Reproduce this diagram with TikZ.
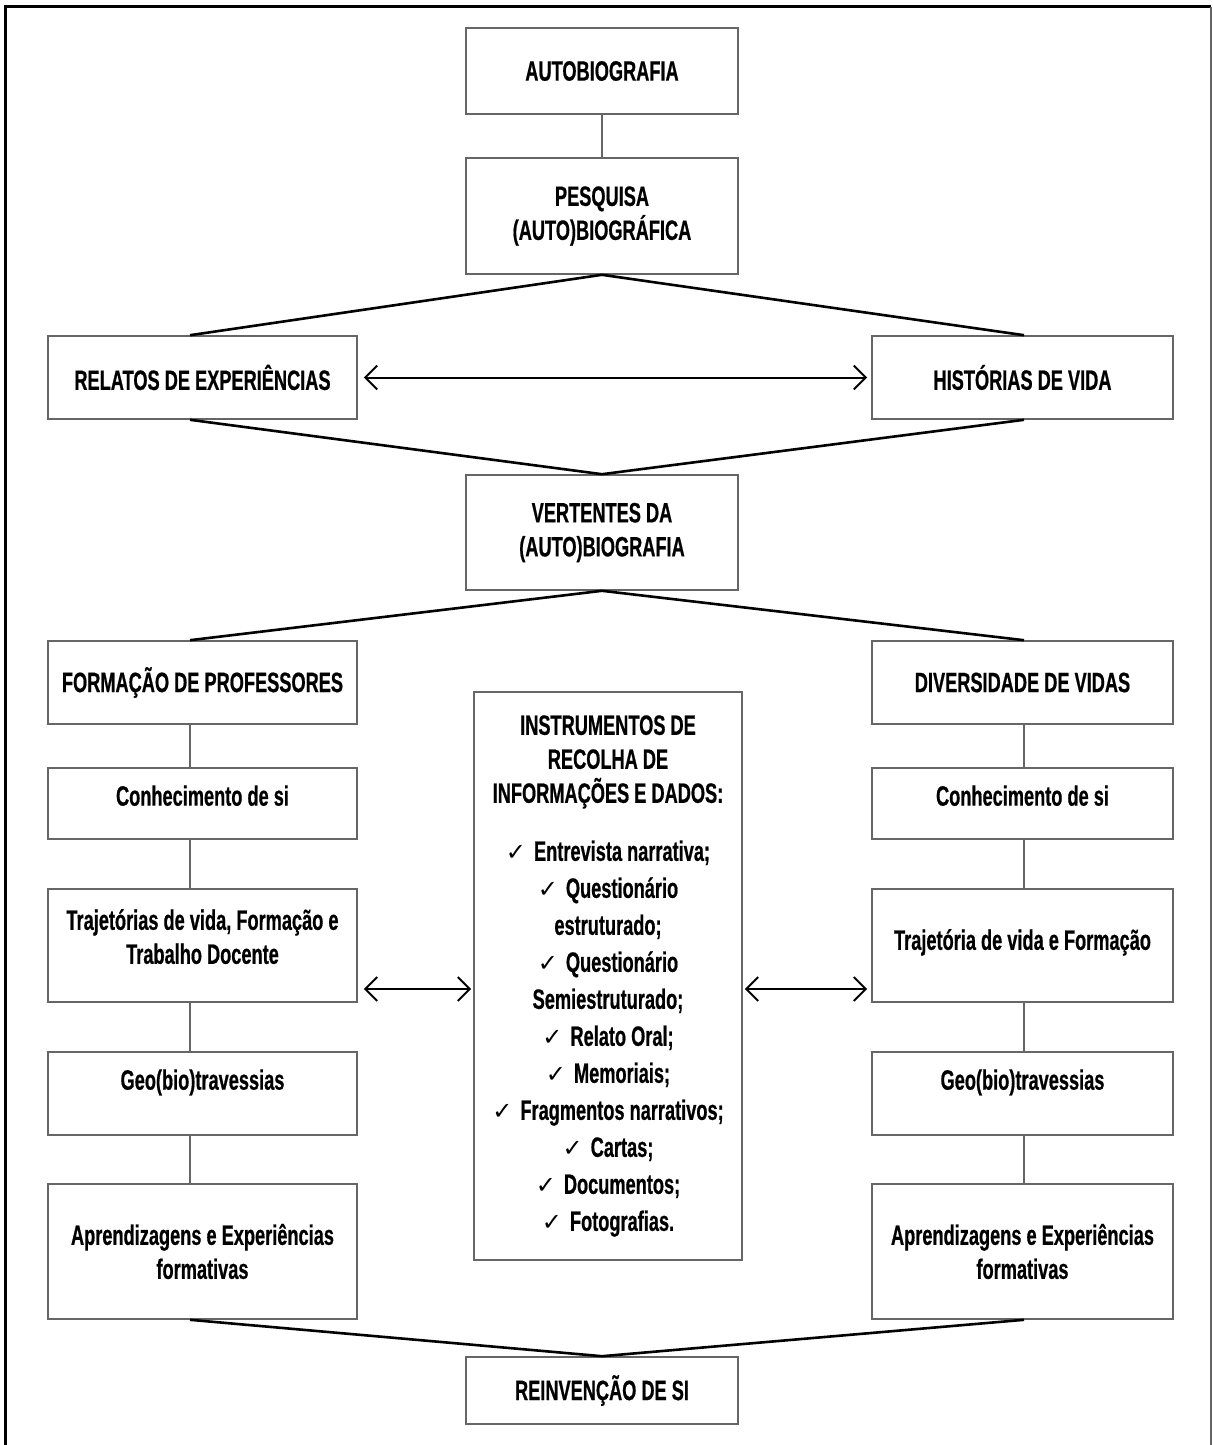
\documentclass[tikz,border=0pt]{standalone}
\usepackage{fontspec}
\setmainfont{Liberation Sans}[FakeStretch=0.65, BoldFeatures={FakeBold=0.6}]
\newfontfamily\checkfont{DejaVu Sans}
\usetikzlibrary{arrows.meta}
\tikzstyle{box} = [draw=black!60, line width=0.8pt, rectangle, align=center, inner sep=2pt, font=\bfseries\fontsize{14}{17}\selectfont]
\tikzstyle{line} = [line width=1.3pt]
\tikzstyle{link} = [draw=black!60, line width=0.7pt]
\tikzstyle{arrow} = [line width=1pt, {Straight Barb[length=6pt,width=12pt]}-{Straight Barb[length=6pt,width=12pt]}]
\newcommand{\chk}{{\checkfont\mdseries\fontsize{12}{12}\selectfont ✓}\hspace{4pt}}

\begin{document}
\begin{tikzpicture}[
            x=0.5pt, y=-0.5pt,
            mid/.style={box, minimum width=136pt},
            left/.style={box, minimum width=154.5pt},
            right/.style={box, minimum width=150.5pt}
        ]
            \useasboundingbox (0,0) rectangle (1212,1445);
            \draw[line width=1.5pt] (5,1445) -- (5,7) -- (1211,7);
            \draw[black!60, line width=0.8pt] (1211,7) -- (1211,1445);

            \node[mid, minimum height=43pt] (auto) at (602,71) {AUTOBIOGRAFIA};
            \node[mid, minimum height=58pt] (pesq) at (602,216) {PESQUISA\\(AUTO)BIOGRÁFICA};
            \node[left, minimum height=41.5pt] (relatos) at (202.5,377.5) {RELATOS DE EXPERIÊNCIAS};
            \node[right, minimum height=41.5pt] (hist) at (1022.5,377.5) {HISTÓRIAS DE VIDA};
            \node[mid, minimum height=57.5pt] (vert) at (602,532.5) {VERTENTES DA\\(AUTO)BIOGRAFIA};

            % coluna da esquerda
            \node[left, minimum height=41.5pt] (form) at (202.5,682.5) {FORMAÇÃO DE PROFESSORES};
            \node[left, minimum height=35.5pt, text depth=8pt] (conL) at (202.5,803.5) {Conhecimento de si};
            \node[left, minimum height=56.5pt, text depth=9pt] (trajL) at (202.5,945.5) {Trajetórias de vida, Formação e\\Trabalho Docente};
            \node[left, minimum height=41.5pt, text depth=14pt] (geoL) at (202.5,1093.5) {Geo(bio)travessias};
            \node[left, minimum height=67.5pt] (aprL) at (202.5,1251.5) {Aprendizagens e Experiências\\formativas};

            % coluna da direita
            \node[right, minimum height=41.5pt] (div) at (1022.5,682.5) {DIVERSIDADE DE VIDAS};
            \node[right, minimum height=35.5pt, text depth=8pt] (conR) at (1022.5,803.5) {Conhecimento de si};
            \node[right, minimum height=56.5pt, text depth=6pt] (trajR) at (1022.5,945.5) {Trajetória de vida e Formação};
            \node[right, minimum height=41.5pt, text depth=14pt] (geoR) at (1022.5,1093.5) {Geo(bio)travessias};
            \node[right, minimum height=67.5pt] (aprR) at (1022.5,1251.5) {Aprendizagens e Experiências\\formativas};

            \node[box, minimum width=134pt, minimum height=284pt] (instr) at (608,976) {INSTRUMENTOS DE\\RECOLHA DE\\INFORMAÇÕES E DADOS:\\[12pt]
                \chk Entrevista narrativa;\\[1.5pt]
                \chk Questionário\\[1.5pt]
                estruturado;\\[1.5pt]
                \chk Questionário\\[1.5pt]
                Semiestruturado;\\[1.5pt]
                \chk Relato Oral;\\[1.5pt]
                \chk Memoriais;\\[1.5pt]
                \chk Fragmentos narrativos;\\[1.5pt]
                \chk Cartas;\\[1.5pt]
                \chk Documentos;\\[1.5pt]
                \chk Fotografias.};

            \node[mid, minimum height=33.5pt] (rein) at (602,1390.5) {REINVENÇÃO DE SI};

            \coordinate (colL) at (190,0);
            \coordinate (colR) at (1024,0);
            \coordinate (arr) at (0,989);

            \draw[link] (auto) -- (pesq);
            \draw[line] (pesq.south) -- (relatos.north -| colL);
            \draw[line] (pesq.south) -- (hist.north -| colR);
            \draw[line] (relatos.south -| colL) -- (vert.north);
            \draw[line] (hist.south -| colR) -- (vert.north);
            \draw[line] (vert.south) -- (form.north -| colL);
            \draw[line] (vert.south) -- (div.north -| colR);
            \draw[line] (aprL.south -| colL) -- (rein.north);
            \draw[line] (aprR.south -| colR) -- (rein.north);

            \draw[link] (form.south -| colL) -- (conL.north -| colL);
            \draw[link] (conL.south -| colL) -- (trajL.north -| colL);
            \draw[link] (trajL.south -| colL) -- (geoL.north -| colL);
            \draw[link] (geoL.south -| colL) -- (aprL.north -| colL);
            \draw[link] (div.south -| colR) -- (conR.north -| colR);
            \draw[link] (conR.south -| colR) -- (trajR.north -| colR);
            \draw[link] (trajR.south -| colR) -- (geoR.north -| colR);
            \draw[link] (geoR.south -| colR) -- (aprR.north -| colR);

            \draw[arrow, shorten <=3pt, shorten >=2pt] (relatos.east) -- (hist.west);
            \draw[arrow, shorten <=3pt, shorten >=1pt] (trajL.east |- arr) -- (instr.west |- arr);
            \draw[arrow, shorten <=1pt, shorten >=2pt] (instr.east |- arr) -- (trajR.west |- arr);
        \end{tikzpicture}
\end{document}
